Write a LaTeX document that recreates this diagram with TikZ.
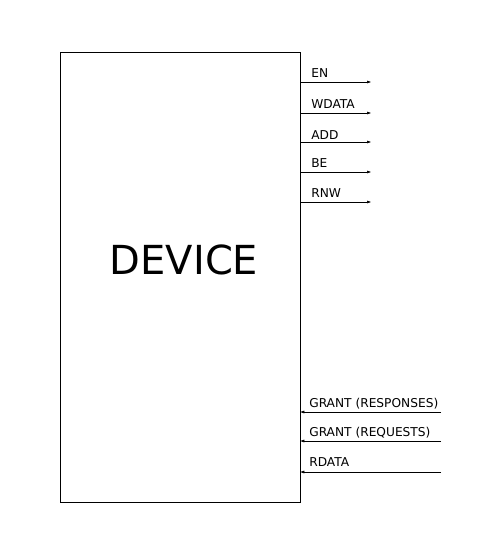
\documentclass[tikz,border=0pt]{standalone}
\usepackage{fontspec}
\setmainfont{DejaVu Sans}
\usetikzlibrary{arrows.meta}
\begin{document}
\begin{tikzpicture}[x=1pt, y=-1pt, line width=0.6pt,
    sig/.style={-{Triangle[length=4pt,width=2.6pt]}},
    siglabel/.style={anchor=base west, inner sep=0pt, font=\fontsize{12.2}{14}\selectfont}]
    \useasboundingbox (0,0) rectangle (497,557);

    % Baustein
    \node[draw, minimum width=240pt, minimum height=450pt, inner sep=0pt] (device) at (180,277) {};
    \node[font=\fontsize{40}{48}\selectfont] (name) at (184,260) {DEVICE};

    % Ausgaenge
    \foreach \y/\b/\lab in {82/77/EN, 113/108/WDATA, 142/139/ADD, 172/167/BE, 202/197/RNW} {
        \coordinate (out-\lab) at (371,\y);
        \draw[sig] (device.east |- out-\lab) -- (out-\lab);
        \node[siglabel] at (311,\b) {\lab};
    }

    % Eingaenge
    \coordinate (gresp) at (441,412);
    \coordinate (greq) at (441,441);
    \coordinate (rdata) at (441,472);
    \draw[sig] (gresp) -- (device.east |- gresp);
    \draw[sig] (greq) -- (device.east |- greq);
    \draw[sig] (rdata) -- (device.east |- rdata);
    \node[siglabel] (lresp) at (309,407) {GRANT (RESPONSES)};
    \node[siglabel] (lreq) at (309,436) {GRANT (REQUESTS)};
    \node[siglabel] (lrdata) at (309,466) {RDATA};
\end{tikzpicture}
\end{document}
